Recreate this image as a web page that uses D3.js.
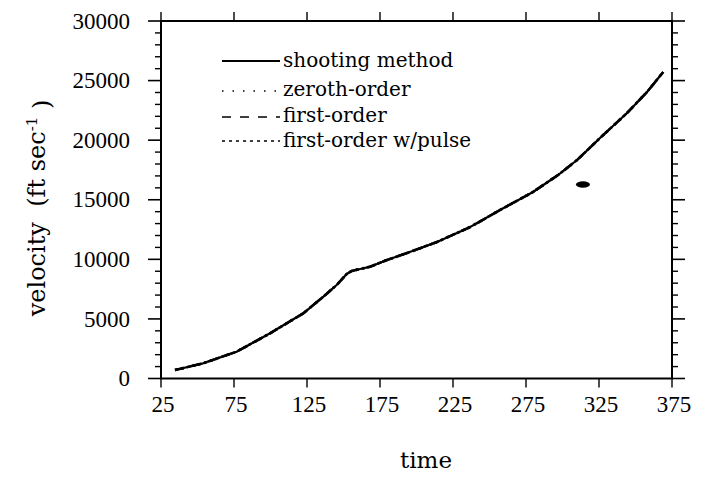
<!DOCTYPE html>
<html>
<head>
<meta charset="utf-8">
<script src="https://cdn.jsdelivr.net/npm/d3@7"></script>
<style>
  body { margin: 0; background: #fff; }
  svg { display: block; }
</style>
</head>
<body>
<div id="chart"></div>
<script>
// data
var timeValues = [34.6, 53.8, 76.8, 99.7, 122.5, 136.2, 145.3, 152.2, 155.6, 168.2, 179.8, 193.5, 214, 236.6, 257.2, 279.8, 297, 310, 325.7, 344.2, 357.9, 369];
var shootingV = [713, 1275, 2249, 3793, 5471, 6864, 7846, 8769, 9021, 9382, 9944, 10531, 11454, 12700, 14140, 15650, 17076, 18335, 20181, 22279, 24042, 25720];
var zerothV = [713, 1275, 2249, 3793, 5471, 6864, 7846, 8769, 9021, 9382, 9944, 10531, 11454, 12700, 14140, 15650, 17076, 18335, 20181, 22279, 24042, 25720];
var firstV = [713, 1275, 2249, 3793, 5471, 6864, 7846, 8769, 9021, 9382, 9944, 10531, 11454, 12700, 14140, 15650, 17076, 18335, 20181, 22279, 24042, 25720];
var pulseV = [713, 1275, 2249, 3793, 5471, 6864, 7846, 8769, 9021, 9382, 9944, 10531, 11454, 12700, 14140, 15650, 17076, 18335, 20181, 22279, 24042, 25720];
// the little blob near t=314
var pulseMark = [314, 16280];

var seriesNames = ["shooting method", "zeroth-order", "first-order", "first-order w/pulse"];
var seriesDash = [null, "1.5,6", "9,8", "3,3"];
var xTicks = [25, 75, 125, 175, 225, 275, 325, 375];
var yTicks = [0, 5000, 10000, 15000, 20000, 25000, 30000];

var svgWidth = 705;
var svgHeight = 477;

var svg = d3.select("#chart")
  .append("svg")
  .attr("width", svgWidth)
  .attr("height", svgHeight);

// plot frame in pixels
var plotLeft = 161, plotRight = 672, plotTop = 21, plotBottom = 378.5;

var x = d3.scaleLinear().domain([25, 375]).range([plotLeft, plotRight]);
var y = d3.scaleLinear().domain([0, 30000]).range([plotBottom, plotTop]);

var minorY = d3.range(0, 30001, 1000).filter(d => d % 5000 !== 0);

// frame
svg.append("rect")
  .attr("x", plotLeft).attr("y", plotTop)
  .attr("width", plotRight - plotLeft).attr("height", plotBottom - plotTop)
  .attr("fill", "none")
  .attr("stroke", "#000")
  .attr("stroke-width", 2);

// left axis ticks (outward)
var leftAxis = svg.append("g");
leftAxis.selectAll(".maj").data(yTicks).enter().append("line")
  .attr("x1", plotLeft - 13).attr("x2", plotLeft)
  .attr("y1", d => y(d)).attr("y2", d => y(d))
  .attr("stroke", "#000").attr("stroke-width", 1.6);
leftAxis.selectAll(".min").data(minorY).enter().append("line")
  .attr("x1", plotLeft - 6).attr("x2", plotLeft)
  .attr("y1", d => y(d)).attr("y2", d => y(d))
  .attr("stroke", "#000").attr("stroke-width", 1.4);

// right axis ticks (outward)
var rightAxis = svg.append("g");
rightAxis.selectAll(".maj").data(yTicks).enter().append("line")
  .attr("x1", plotRight).attr("x2", plotRight + 13)
  .attr("y1", d => y(d)).attr("y2", d => y(d))
  .attr("stroke", "#000").attr("stroke-width", 1.6);
rightAxis.selectAll(".min").data(minorY).enter().append("line")
  .attr("x1", plotRight).attr("x2", plotRight + 6)
  .attr("y1", d => y(d)).attr("y2", d => y(d))
  .attr("stroke", "#000").attr("stroke-width", 1.4);

// top and bottom ticks
svg.append("g").selectAll("line").data(xTicks).enter().append("line")
  .attr("x1", d => x(d)).attr("x2", d => x(d))
  .attr("y1", plotTop - 9).attr("y2", plotTop)
  .attr("stroke", "#000").attr("stroke-width", 1.4);
svg.append("g").selectAll("line").data(xTicks).enter().append("line")
  .attr("x1", d => x(d)).attr("x2", d => x(d))
  .attr("y1", plotBottom).attr("y2", plotBottom + 9)
  .attr("stroke", "#000").attr("stroke-width", 1.4);

// tick labels
svg.append("g").selectAll("text").data(yTicks).enter().append("text")
  .attr("x", 130)
  .attr("y", d => y(d))
  .attr("dy", "0.33em")
  .attr("text-anchor", "end")
  .attr("font-family", "Liberation Serif")
  .attr("font-size", "23px")
  .text(d => d);

svg.append("g").selectAll("text").data(xTicks).enter().append("text")
  .attr("x", d => x(d) + 2)
  .attr("y", 412)
  .attr("text-anchor", "middle")
  .attr("font-family", "Liberation Serif")
  .attr("font-size", "23px")
  .text(d => d);

// axis titles
svg.append("text")
  .attr("x", 426)
  .attr("y", 468)
  .attr("text-anchor", "middle")
  .attr("font-family", "DejaVu Serif")
  .attr("font-size", "23px")
  .text("time");

var yTitle = svg.append("text")
  .attr("transform", "translate(45, 208) rotate(-90)")
  .attr("text-anchor", "middle")
  .attr("font-family", "DejaVu Serif")
  .attr("font-size", "24px");
yTitle.append("tspan").text("velocity\u00a0\u00a0(ft sec");
yTitle.append("tspan").attr("dy", "-0.55em").attr("font-size", "15px").text("-1");
yTitle.append("tspan").attr("dy", "0.55em").text("\u00a0)");

// curves
var line = d3.line()
  .x(d => x(d[0]))
  .y(d => y(d[1]));

var allSeries = [shootingV, zerothV, firstV, pulseV];
allSeries.forEach(function(vals, i) {
  var pts = timeValues.map((t, j) => [t, vals[j]]);
  svg.append("path")
    .datum(pts)
    .attr("d", line)
    .attr("fill", "none")
    .attr("stroke", "#000")
    .attr("stroke-linejoin", "round")
    .attr("stroke-width", i === 0 ? 2.2 : 2.6)
    .attr("stroke-dasharray", seriesDash[i]);
});

svg.append("ellipse")
  .attr("cx", x(pulseMark[0]))
  .attr("cy", y(pulseMark[1]))
  .attr("rx", 7)
  .attr("ry", 3.2)
  .attr("fill", "#000");

// legend
var legendLineY = [61, 91, 117, 141];
var legendTextY = [67, 96, 122, 147];
var legend = svg.append("g");
seriesNames.forEach(function(name, i) {
  legend.append("line")
    .attr("x1", 222).attr("x2", 280)
    .attr("y1", legendLineY[i]).attr("y2", legendLineY[i])
    .attr("stroke", "#000")
    .attr("stroke-width", i === 0 ? 1.8 : 1.6)
    .attr("stroke-dasharray", i === 1 ? "1.5,9" : i === 2 ? "9,9" : i === 3 ? "3,4" : null);
  legend.append("text")
    .attr("x", 283)
    .attr("y", legendTextY[i])
    .attr("font-family", "DejaVu Serif")
    .attr("font-size", "20px")
    .text(name);
});
</script>
</body>
</html>
